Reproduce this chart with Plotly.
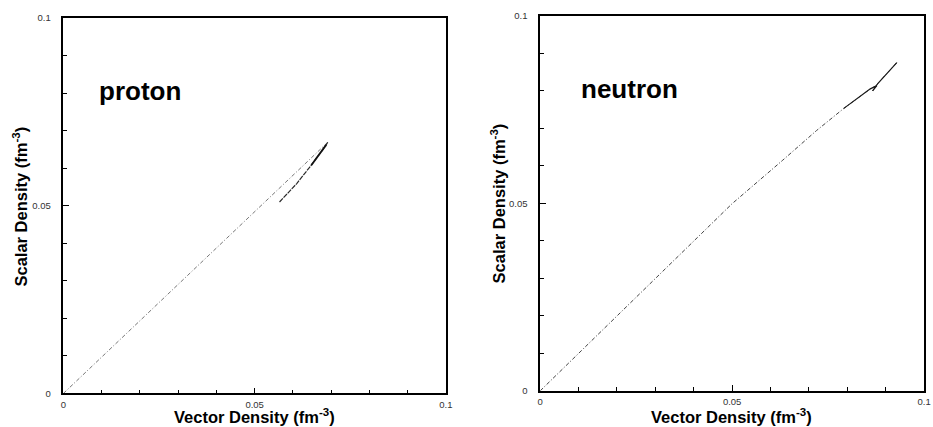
import plotly.graph_objects as go

# Proton: upper branch rises from the origin, lower branch returns from the turning point
proton_up_x = [0.0, 0.0250, 0.0500, 0.0691]
proton_up_y = [0.0, 0.0243, 0.0486, 0.0669]
proton_down_x = [0.0691, 0.0687, 0.0648, 0.0610, 0.0565]
proton_down_y = [0.0669, 0.0662, 0.0608, 0.0559, 0.0510]

# Neutron: nearly linear rise, flattening slightly, with a small hook near the end
neutron_x = [0.0, 0.0250, 0.0500, 0.0632, 0.0720, 0.0791, 0.0860, 0.0877, 0.0866, 0.0880, 0.0929]
neutron_y = [0.0, 0.0250, 0.0499, 0.0615, 0.0694, 0.0753, 0.0805, 0.0814, 0.0800, 0.0820, 0.0875]

tick_vals = [0, 0.05, 0.1]
tick_text = ["0", "0.05", "0.1"]

FONT = "Liberation Sans, Arial"
fig = go.Figure()

# proton curves
fig.add_trace(go.Scatter(x=proton_up_x, y=proton_up_y, mode="lines",
                         line=dict(color="#777777", width=1, dash="4px,2px,1px,2px"),
                         xaxis="x", yaxis="y", showlegend=False))
fig.add_trace(go.Scatter(x=proton_down_x, y=proton_down_y, mode="lines",
                         line=dict(color="#2a2a2a", width=1.2, dash="5px,1px"),
                         xaxis="x", yaxis="y", showlegend=False))
fig.add_trace(go.Scatter(x=proton_down_x[1:3], y=proton_down_y[1:3], mode="lines",
                         line=dict(color="#111111", width=1.8),
                         xaxis="x", yaxis="y", showlegend=False))

# neutron curves
fig.add_trace(go.Scatter(x=neutron_x, y=neutron_y, mode="lines",
                         line=dict(color="#444444", width=1, dash="4px,2px,1px,2px"),
                         xaxis="x2", yaxis="y2", showlegend=False))
fig.add_trace(go.Scatter(x=neutron_x[5:], y=neutron_y[5:], mode="lines",
                         line=dict(color="#1a1a1a", width=1.2),
                         xaxis="x2", yaxis="y2", showlegend=False))

tick_font = dict(family=FONT, size=9.5, color="#333333")


def axis_style(domain, anchor, standoff):
    return dict(
        domain=domain, anchor=anchor, range=[0, 0.1],
        tickvals=tick_vals, ticktext=tick_text, ticks="inside", ticklen=6,
        tickwidth=1, tickcolor="black",
        minor=dict(dtick=0.01, ticks="inside", ticklen=4, tickcolor="black", tickwidth=1),
        showline=True, linecolor="black", linewidth=1.5, mirror=True,
        showgrid=False, zeroline=False, tickfont=tick_font,
        ticklabelstandoff=standoff,
    )


title_font = dict(family=FONT, size=16.5, color="black")
xtitle = "<b>Vector Density (fm<sup>-3</sup>)</b>"
ytitle = "<b>Scalar Density (fm<sup>-3</sup>)</b>"

annotations = [
    dict(text=xtitle, x=254 / 933, y=-0.013, xanchor="center", yanchor="bottom", textangle=0),
    dict(text=xtitle, x=736 / 933, y=-0.013, xanchor="center", yanchor="bottom", textangle=0),
    dict(text=ytitle, x=17 / 933, y=1 - 206 / 427, xanchor="center", yanchor="middle",
         textangle=-90),
    dict(text=ytitle, x=500 / 933, y=1 - 203 / 427, xanchor="center", yanchor="middle",
         textangle=-90),
]
for a in annotations:
    a.update(xref="paper", yref="paper", showarrow=False, font=title_font, borderpad=0)

label_font = dict(family=FONT, size=26, color="black")
annotations += [
    dict(text="<b>proton</b>", x=0.0088, y=0.0806, xref="x", yref="y",
         xanchor="left", yanchor="middle", showarrow=False, font=label_font),
    dict(text="<b>neutron</b>", x=0.0100, y=0.0805, xref="x2", yref="y2",
         xanchor="left", yanchor="middle", showarrow=False, font=label_font),
]

fig.update_layout(
    width=933, height=427,
    margin=dict(l=0, r=0, t=0, b=0),
    paper_bgcolor="white", plot_bgcolor="white",
    xaxis=axis_style([0.0654, 0.4799], "y", 1),
    yaxis=axis_style([0.0686, 0.9712], "x", 9),
    xaxis2=axis_style([0.5820, 0.9979], "y2", 1),
    yaxis2=axis_style([0.0749, 0.9766], "x2", 9),
    annotations=annotations,
)

fig.write_html("out.html")
